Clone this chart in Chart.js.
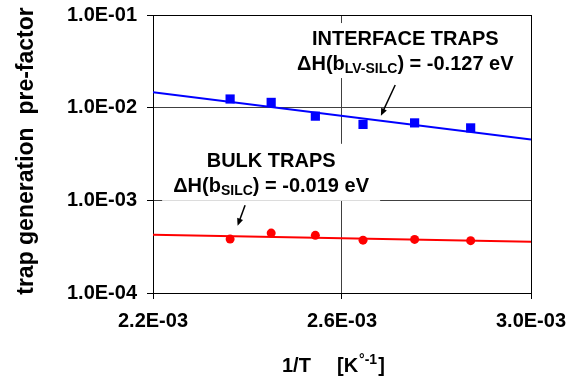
<!DOCTYPE html>
<html>
<head>
	<meta charset="utf-8">
	<title>trap generation pre-factor</title>
	<style>
		html, body { margin: 0; padding: 0; background: #fff; }
	</style>
</head>
<body>
	<canvas id="myChart" width="581" height="379"></canvas>
	<script type="text/javascript" src="https://cdn.jsdelivr.net/npm/chart.js@4.4.0/dist/chart.umd.min.js"></script>
	<script type="text/javascript">
		// 1/T values of the measurements (75..150 C)
		let invT = [2.3632e-3, 2.4501e-3, 2.5436e-3, 2.6445e-3, 2.7537e-3, 2.8723e-3];
		let interfaceTraps = [1.24e-2, 1.14e-2, 8.1e-3, 6.6e-3, 6.85e-3, 6.05e-3];
		let bulkTraps = [3.82e-4, 4.43e-4, 4.19e-4, 3.72e-4, 3.79e-4, 3.67e-4];

		// fitted lines, read at both ends of the x range
		let fitX = [2.2e-3, 3.0e-3];
		let interfaceFit = [1.47e-2, 4.53e-3];
		let bulkFit = [4.26e-4, 3.58e-4];

		let xTicks = [2.2e-3, 2.6e-3, 3.0e-3];
		let yTicks = [1e-4, 1e-3, 1e-2, 1e-1];

		const FONT = "'Liberation Sans', Arial, sans-serif";

		function sci(v) {
			let exp = Math.floor(Math.log10(v) + 1e-9);
			let m = v / Math.pow(10, exp);
			return m.toFixed(1) + "E" + (exp < 0 ? "-" : "+") + String(Math.abs(exp)).padStart(2, "0");
		}

		function pts(xs, ys) {
			return xs.map((x, i) => ({x: x, y: ys[i]}));
		}

		// text with a subscript part: [main, sub, rest]
		function drawSubText(ctx, parts, cx, baseline, size) {
			let big = "bold " + size + "px " + FONT;
			let small = "bold " + Math.round(size * 0.68) + "px " + FONT;
			ctx.font = big;
			let w0 = ctx.measureText(parts[0]).width;
			let w2 = ctx.measureText(parts[2]).width;
			ctx.font = small;
			let w1 = ctx.measureText(parts[1]).width;
			let x = cx - (w0 + w1 + w2) / 2;
			ctx.textAlign = "left";
			ctx.textBaseline = "alphabetic";
			ctx.font = big;
			ctx.fillText(parts[0], x, baseline);
			ctx.font = small;
			ctx.fillText(parts[1], x + w0, baseline + 3);
			ctx.font = big;
			ctx.fillText(parts[2], x + w0 + w1, baseline);
		}

		function arrow(ctx, x1, y1, x2, y2) {
			let a = Math.atan2(y2 - y1, x2 - x1);
			let len = 8;
			ctx.strokeStyle = "#000";
			ctx.fillStyle = "#000";
			ctx.lineWidth = 1.5;
			ctx.beginPath();
			ctx.moveTo(x1, y1);
			ctx.lineTo(x2 - Math.cos(a) * len * 0.7, y2 - Math.sin(a) * len * 0.7);
			ctx.stroke();
			ctx.beginPath();
			ctx.moveTo(x2, y2);
			ctx.lineTo(x2 - len * Math.cos(a - 0.4), y2 - len * Math.sin(a - 0.4));
			ctx.lineTo(x2 - len * Math.cos(a + 0.4), y2 - len * Math.sin(a + 0.4));
			ctx.closePath();
			ctx.fill();
		}

		// label anchors in data units: [x centre, first baseline]
		let labels = [
			{x: 2.734e-3, y: 0.0474, title: "INTERFACE TRAPS", sub: ["\u0394H(b", "LV-SILC", ") = -0.127 eV"], box: [-120, 118, -22, 33],
				arrow: [2.7126e-3, 0.01754, 2.6823e-3, 0.00818]},
			{x: 2.450e-3, y: 0.0023, title: "BULK TRAPS", sub: ["\u0394H(b", "SILC", ") = -0.019 eV"], box: [-109, 109, -23, 34],
				arrow: [2.3949e-3, 8.87e-4, 2.379e-3, 5.31e-4]},
		];

		let annotations = {
			id: "annotations",
			beforeDatasetsDraw(chart) {
				let ctx = chart.ctx;
				let xs = chart.scales.x, ys = chart.scales.y;
				let a = chart.chartArea;
				ctx.save();
				ctx.fillStyle = "#fff";
				labels.forEach((l) => {
					let cx = xs.getPixelForValue(l.x), by = ys.getPixelForValue(l.y);
					ctx.fillRect(cx + l.box[0], by + l.box[2], l.box[1] - l.box[0], l.box[3] - l.box[2]);
				});
				ctx.strokeStyle = "#000";
				ctx.lineWidth = 1;
				ctx.strokeRect(Math.round(a.left) + 0.5, Math.round(a.top) + 0.5, Math.round(a.right - a.left), Math.round(a.bottom - a.top));
				ctx.restore();
			},
			afterDatasetsDraw(chart) {
				let ctx = chart.ctx;
				let xs = chart.scales.x, ys = chart.scales.y;
				ctx.save();
				ctx.fillStyle = "#000";
				labels.forEach((l) => {
					let cx = xs.getPixelForValue(l.x), by = ys.getPixelForValue(l.y);
					ctx.font = "bold 20px " + FONT;
					ctx.textAlign = "center";
					ctx.textBaseline = "alphabetic";
					ctx.fillText(l.title, cx, by);
					drawSubText(ctx, l.sub, cx, by + 25, 20);
					arrow(ctx, xs.getPixelForValue(l.arrow[0]), ys.getPixelForValue(l.arrow[1]),
						xs.getPixelForValue(l.arrow[2]), ys.getPixelForValue(l.arrow[3]));
				});
				ctx.restore();
			},
			afterDraw(chart) {
				let ctx = chart.ctx;
				let a = chart.chartArea;
				ctx.save();
				ctx.fillStyle = "#000";
				// y axis title
				ctx.translate(27, 151);
				ctx.rotate(-Math.PI / 2);
				ctx.font = "bold 23px " + FONT;
				ctx.textAlign = "center";
				ctx.textBaseline = "middle";
				ctx.fillText("trap generation  pre-factor", 0, 0);
				ctx.restore();

				// x axis title with superscript
				ctx.save();
				ctx.fillStyle = "#000";
				ctx.textAlign = "left";
				ctx.textBaseline = "alphabetic";
				let base = a.bottom + 79;
				let x = (a.left + a.right) / 2 - 60;
				ctx.font = "bold 20px " + FONT;
				ctx.fillText("1/T", x, base);
				x += 55;
				ctx.fillText("[K", x, base);
				x += ctx.measureText("[K").width;
				ctx.font = "bold 14px " + FONT;
				ctx.fillText("\u00b0-1", x + 1, base - 8);
				x += ctx.measureText("\u00b0-1").width + 2;
				ctx.font = "bold 20px " + FONT;
				ctx.fillText("]", x, base);
				ctx.restore();
			}
		};

		let tickFont = {family: FONT, size: 20, weight: "bold"};

		let config = {
			type: "scatter",
			data: {
				datasets: [
					{
						label: "interface traps",
						data: pts(invT, interfaceTraps),
						pointStyle: "rect",
						pointRadius: 6.5,
						backgroundColor: "#0000ff",
						borderColor: "#0000ff",
						borderWidth: 0,
					},
					{
						label: "bulk traps",
						data: pts(invT, bulkTraps),
						pointStyle: "circle",
						pointRadius: 4.5,
						backgroundColor: "#ff0000",
						borderColor: "#ff0000",
						borderWidth: 0,
					},
					{
						label: "interface fit",
						data: pts(fitX, interfaceFit),
						showLine: true,
						pointRadius: 0,
						borderColor: "#0000ff",
						borderWidth: 2,
					},
					{
						label: "bulk fit",
						data: pts(fitX, bulkFit),
						showLine: true,
						pointRadius: 0,
						borderColor: "#ff0000",
						borderWidth: 2,
					},
				]
			},
			options: {
				responsive: false,
				animation: false,
				layout: {padding: {top: 15, right: 50, left: 0, bottom: 0}},
				plugins: {
					legend: {display: false},
					tooltip: {enabled: false},
				},
				scales: {
					x: {
						type: "linear",
						min: 2.2e-3,
						max: 3.0e-3,
						afterBuildTicks: (s) => { s.ticks = xTicks.map((v) => ({value: v})); },
						afterFit: (s) => { s.height = 86; s.paddingLeft = 0; s.paddingRight = 0; },
						grid: {color: "#404040", lineWidth: 1, tickLength: 6, tickColor: "#000"},
						border: {color: "#000", width: 1},
						ticks: {font: tickFont, color: "#000", padding: 10, maxRotation: 0, callback: (v) => sci(v)},
					},
					y: {
						type: "logarithmic",
						min: 1e-4,
						max: 1e-1,
						afterBuildTicks: (s) => { s.ticks = yTicks.map((v) => ({value: v, major: true})); },
						afterFit: (s) => { s.width = 153; s.paddingTop = 0; s.paddingBottom = 0; },
						grid: {color: "#404040", lineWidth: 1, tickLength: 6, tickColor: "#000"},
						border: {color: "#000", width: 1},
						ticks: {font: tickFont, color: "#000", padding: 10, callback: (v) => sci(v)},
					},
				}
			},
			plugins: [annotations],
		};

		let myChart = new Chart(document.getElementById("myChart").getContext("2d"), config);
	</script>
</body>
</html>
